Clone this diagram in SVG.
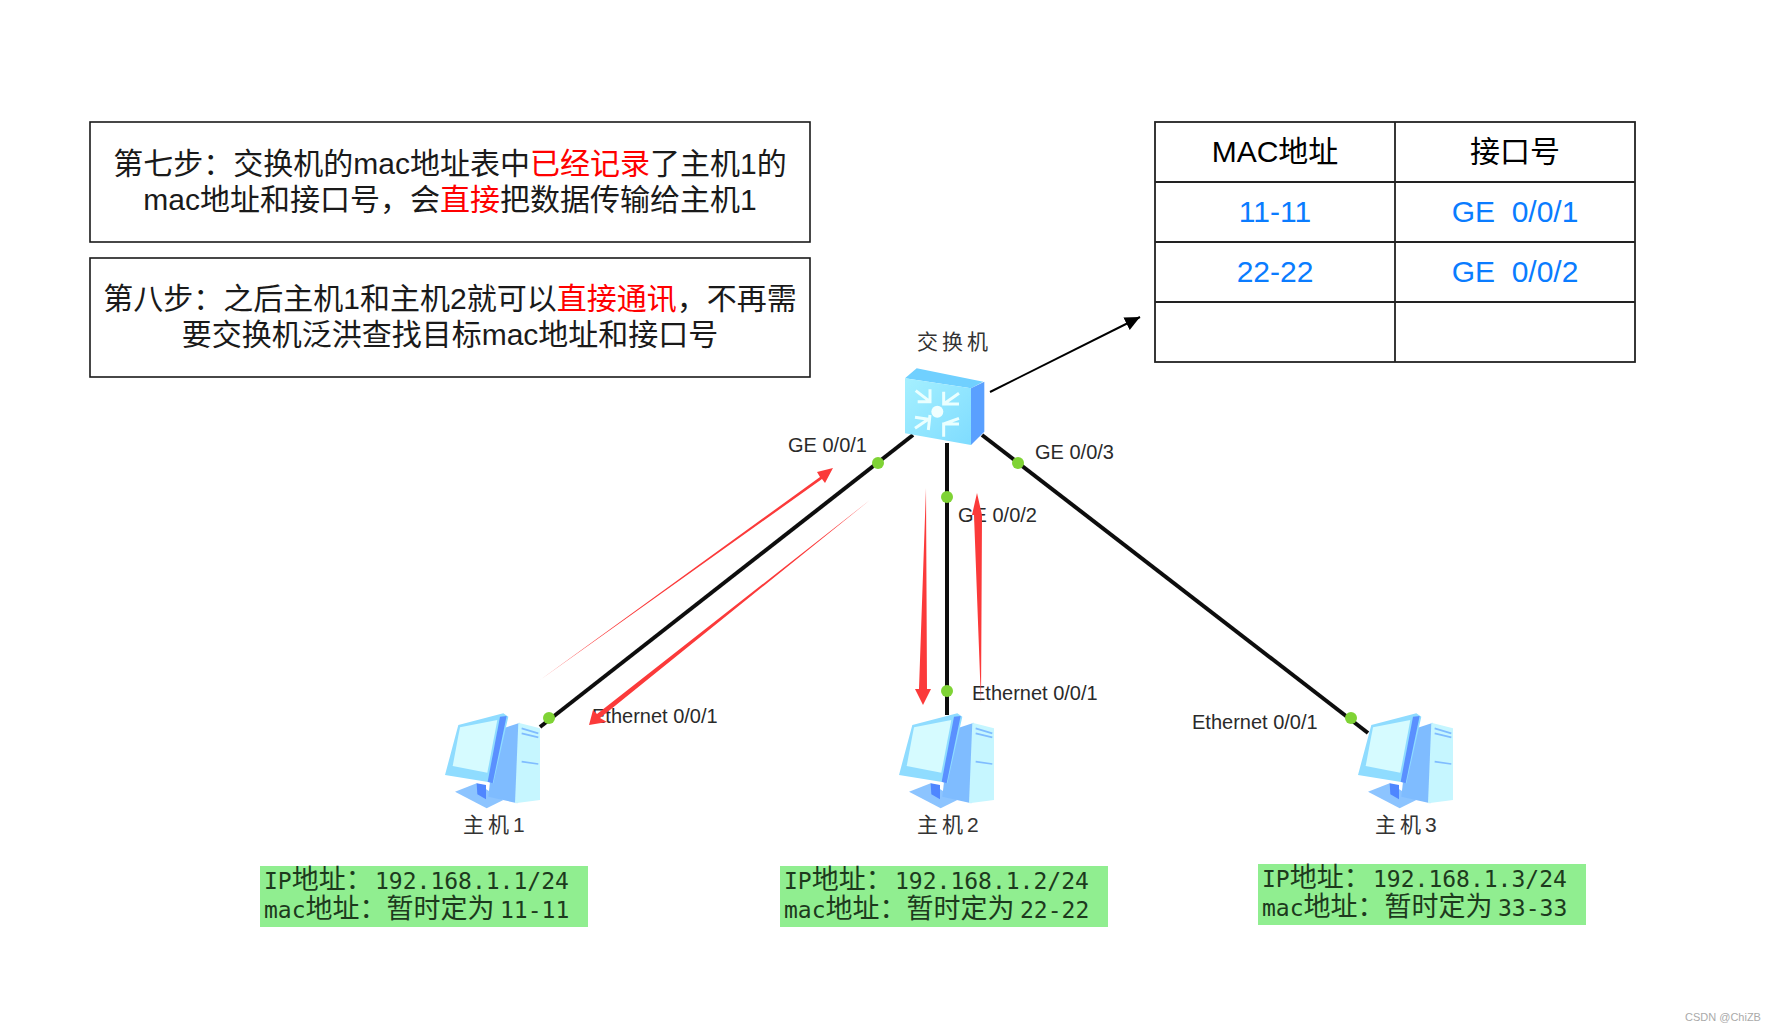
<svg xmlns="http://www.w3.org/2000/svg" xmlns:xlink="http://www.w3.org/1999/xlink" width="1769" height="1030" viewBox="0 0 1769 1030">
<style>
.cn{font-family:"Liberation Sans","Noto Sans CJK SC",sans-serif}
.box{fill:#fff;stroke:#1a1a1a;stroke-width:1.6}
.t30{font-size:30px;fill:#1a1a1a;text-anchor:middle}
.red{fill:#f00}
.cell{font-size:30px;text-anchor:middle;fill:#000}
.blue{fill:#0a7cff}
.grid{stroke:#222;stroke-width:1.8;fill:none}
.lbl{font-size:20px;fill:#2a2a2a}
.name{font-size:21px;fill:#333;letter-spacing:4px}
.link{stroke:#111;stroke-width:4;fill:none}
.dot{fill:#7fd335}
.rarrow{fill:#fb3a3a}
.gbox{fill:#90ee90}
.mono{font-family:"DejaVu Sans Mono","Noto Sans CJK SC",monospace;font-size:23px;fill:#1d3a1d}
.mono .c{font-family:"Noto Sans CJK SC",sans-serif;font-size:27px}
</style>
<defs>
<filter id="soft" x="-10%" y="-10%" width="120%" height="120%"><feGaussianBlur stdDeviation="0.6"/></filter>
<filter id="softer" x="-10%" y="-10%" width="120%" height="120%"><feGaussianBlur stdDeviation="1"/></filter>
<linearGradient id="swf" x1="0" y1="0" x2="1" y2="1"><stop offset="0" stop-color="#a5f0ff"/><stop offset="1" stop-color="#7fdcff"/></linearGradient>
<marker id="tri" markerUnits="userSpaceOnUse" markerWidth="18" markerHeight="16" refX="15" refY="7" orient="auto"><path d="M0 0L15 7L0 14z" fill="#000"/></marker>
<g id="pc" filter="url(#softer)" transform="scale(0.3333)">
<path d="M45 275L110 250L190 300L140 325z" fill="#8cc4ff"/>
<path d="M110 250L138 255L138 298L112 283z" fill="#4f86ff"/>
<path d="M190 85L240 68L232 310L145 290L150 245z" fill="#7fbcff"/>
<path d="M235 68L300 85L300 300L225 310z" fill="#c6f6ff"/>
<path d="M245 85L295 100M245 100L295 112M245 185L295 192" stroke="#7fbcff" stroke-width="5"/>
<path d="M15 225L55 75L190 40L205 50L160 250L140 245z" fill="#8fdcff"/>
<path d="M180 50L200 48L158 250L143 245z" fill="#5a90ff"/>
<path d="M60 82L172 60L142 218L38 198z" fill="#d6fbff"/>
</g>
</defs>
<rect width="1769" height="1030" fill="#fff"/>
<g id="note1">
<rect class="box" x="90" y="122" width="720" height="120"/>
<text class="cn t30" x="450" y="174">第七步：交换机的mac地址表中<tspan class="red">已经记录</tspan>了主机1的</text>
<text class="cn t30" x="450" y="210">mac地址和接口号，会<tspan class="red">直接</tspan>把数据传输给主机1</text>
</g>
<g id="note2">
<rect class="box" x="90" y="258" width="720" height="119"/>
<text class="cn t30" x="450" y="309">第八步：之后主机1和主机2就可以<tspan class="red">直接通讯</tspan>，不再需</text>
<text class="cn t30" x="450" y="345">要交换机泛洪查找目标mac地址和接口号</text>
</g>
<g id="mac-table">
<rect class="grid" x="1155" y="122" width="480" height="240"/>
<path class="grid" d="M1395 122V362M1155 182H1635M1155 242H1635M1155 302H1635"/>
<text class="cn cell" x="1275" y="162">MAC地址</text>
<text class="cn cell" x="1515" y="162">接口号</text>
<text class="cn cell blue" x="1275" y="222">11-11</text>
<text class="cn cell blue" x="1515" y="222" xml:space="preserve">GE  0/0/1</text>
<text class="cn cell blue" x="1275" y="282">22-22</text>
<text class="cn cell blue" x="1515" y="282" xml:space="preserve">GE  0/0/2</text>
</g>
<g id="connectors">
<g filter="url(#soft)">
<path class="link" d="M913 435L540 727"/>
<path class="link" d="M947 443V715"/>
<path class="link" d="M982 435L1368 733"/>
<circle class="dot" cx="878" cy="463" r="6"/>
<circle class="dot" cx="549" cy="718" r="6"/>
<circle class="dot" cx="947" cy="497" r="6"/>
<circle class="dot" cx="947" cy="691" r="6"/>
<circle class="dot" cx="1018" cy="463" r="6"/>
<circle class="dot" cx="1351" cy="718" r="6"/>
</g>
<path d="M990 392L1140 317" stroke="#000" stroke-width="2" fill="none" marker-end="url(#tri)"/>
</g>
<g id="switch">
<g transform="translate(895 360) scale(0.3333)" filter="url(#softer)">
<path d="M30 55L65 25L265 65L228 85z" fill="#6fd0ff"/>
<path d="M30 55L228 85V255L30 220z" fill="url(#swf)"/>
<path d="M228 85L268 65V215L228 255z" fill="#5aa0ff"/>
<g stroke="#eaffff" stroke-width="9" fill="none">
<path d="M62 92L105 125M105 88V125H68"/>
<path d="M192 100L146 132M146 95V132H192"/>
<path d="M60 172L100 178M105 165L100 210M60 205L100 178"/>
<path d="M192 175L146 192M146 230V192H192"/>
</g>
<circle cx="127" cy="155" r="18" fill="#f0ffff"/>
</g>
<text class="cn name" x="917" y="349">交换机</text>
</g>
<g id="host1">
<use href="#pc" x="0" y="0" transform="translate(440 700)"/>
<text class="cn name" x="463" y="832">主机1</text>
</g>
<g id="host2">
<use href="#pc" transform="translate(894 700)"/>
<text class="cn name" x="917" y="832">主机2</text>
</g>
<g id="host3">
<use href="#pc" transform="translate(1353 700)"/>
<text class="cn name" x="1375" y="832">主机3</text>
</g>
<g id="port-labels">
<text class="cn lbl" x="788" y="452">GE 0/0/1</text>
<text class="cn lbl" x="958" y="522">GE 0/0/2</text>
<text class="cn lbl" x="1035" y="459">GE 0/0/3</text>
<text class="cn lbl" x="592" y="723">Ethernet 0/0/1</text>
<text class="cn lbl" x="972" y="700">Ethernet 0/0/1</text>
<text class="cn lbl" x="1192" y="729">Ethernet 0/0/1</text>
</g>
<g id="flow-arrows">
<path class="rarrow" d="M540 680L820 477L817 472L833 468L825 483L822 479z"/>
<path class="rarrow" d="M870 500L600 718L607 722L589 725L593 710L597 714z"/>
<path class="rarrow" d="M926 488L927 689L931 689L923 705L915 689L919 689z"/>
<path class="rarrow" d="M981 703L982 515L977 493L972 515L974 515z"/>
</g>
<g id="info1">
<rect class="gbox" x="260" y="866" width="328" height="61"/>
<text class="mono" x="264" y="889" xml:space="preserve">IP<tspan class="c">地址：</tspan><tspan x="375">192.168.1.1/24</tspan></text>
<text class="mono" x="264" y="918" xml:space="preserve">mac<tspan class="c">地址：暂时定为</tspan><tspan x="500">11-11</tspan></text>
</g>
<g id="info2">
<rect class="gbox" x="780" y="866" width="328" height="61"/>
<text class="mono" x="784" y="889" xml:space="preserve">IP<tspan class="c">地址：</tspan><tspan x="895">192.168.1.2/24</tspan></text>
<text class="mono" x="784" y="918" xml:space="preserve">mac<tspan class="c">地址：暂时定为</tspan><tspan x="1020">22-22</tspan></text>
</g>
<g id="info3">
<rect class="gbox" x="1258" y="864" width="328" height="61"/>
<text class="mono" x="1262" y="887" xml:space="preserve">IP<tspan class="c">地址：</tspan><tspan x="1373">192.168.1.3/24</tspan></text>
<text class="mono" x="1262" y="916" xml:space="preserve">mac<tspan class="c">地址：暂时定为</tspan><tspan x="1498">33-33</tspan></text>
</g>
<text class="cn" x="1685" y="1021" font-size="11" fill="#aaa">CSDN @ChiZB</text>
</svg>
